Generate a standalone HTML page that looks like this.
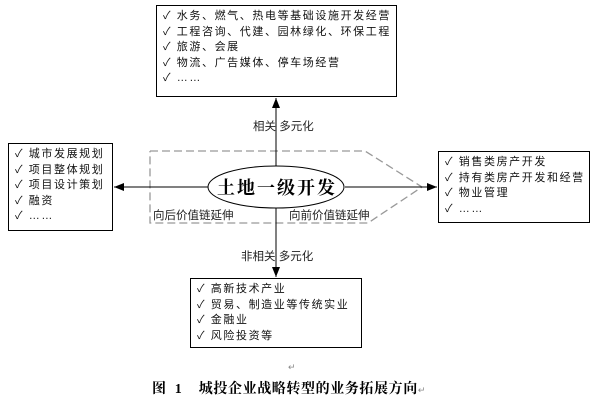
<!DOCTYPE html>
<html><head><meta charset="utf-8"><style>
body{margin:0;background:#fff;width:600px;height:412px;overflow:hidden;font-family:"Liberation Sans","Noto Sans CJK SC",sans-serif;}
.box{position:absolute;border:1px solid #000;background:#fff;font-size:11px;line-height:15.5px;letter-spacing:1.6px;color:#111;padding:3px 0 0 6px;box-sizing:border-box;white-space:nowrap;overflow:hidden;}
.lbl{position:absolute;font-size:11.5px;color:#222;white-space:nowrap;}
</style></head><body>
<svg width="600" height="412" style="position:absolute;left:0;top:0">
<defs><marker id="a" markerWidth="10" markerHeight="8" refX="10" refY="4" orient="auto" markerUnits="userSpaceOnUse"><path d="M0,0L10,4L0,8z" fill="#000"/></marker></defs>
<polyline points="150,151 365,151 422,187 368,223 150,223 150,151" fill="none" stroke="#999" stroke-width="1.3" stroke-dasharray="8,4"/>
<line x1="276" y1="166" x2="276" y2="98" stroke="#000" marker-end="url(#a)"/>
<line x1="276" y1="208" x2="276" y2="277" stroke="#000" marker-end="url(#a)"/>
<line x1="208" y1="187" x2="114" y2="187" stroke="#000" marker-end="url(#a)"/>
<line x1="345" y1="187" x2="437" y2="187" stroke="#000" marker-end="url(#a)"/>
<ellipse cx="276" cy="187" rx="68" ry="21" fill="#fff" stroke="#000"/>
<text x="277" y="194" text-anchor="middle" font-family="Liberation Serif,Noto Serif CJK SC,serif" font-weight="bold" font-size="18" letter-spacing="2">土地一级开发</text>
</svg>
<div class="box" style="left:156px;top:5px;width:241px;height:92px;">✓ 水务、燃气、热电等基础设施开发经营<br>✓ 工程咨询、代建、园林绿化、环保工程<br>✓ 旅游、会展<br>✓ 物流、广告媒体、停车场经营<br>✓ ……</div>
<div class="box" style="left:8px;top:143px;width:105px;height:88px;">✓ 城市发展规划<br>✓ 项目整体规划<br>✓ 项目设计策划<br>✓ 融资<br>✓ ……</div>
<div class="box" style="left:438px;top:151px;width:152px;height:72px;">✓ 销售类房产开发<br>✓ 持有类房产开发和经营<br>✓ 物业管理<br>✓ ……</div>
<div class="box" style="left:190px;top:278px;width:172px;height:70px;">✓ 高新技术产业<br>✓ 贸易、制造业等传统实业<br>✓ 金融业<br>✓ 风险投资等</div>
<div class="lbl" style="left:253px;top:118px;">相关 多元化</div>
<div class="lbl" style="left:241px;top:248px;">非相关 多元化</div>
<div class="lbl" style="left:153px;top:207px;">向后价值链延伸</div>
<div class="lbl" style="left:289px;top:207px;">向前价值链延伸</div>
<div class="lbl" style="left:288px;top:362px;font-size:9px;color:#888;">↵</div>
<div style="position:absolute;left:152px;top:378px;font-family:'Liberation Serif','Noto Serif CJK SC',serif;font-weight:bold;font-size:14px;letter-spacing:0.6px;white-space:nowrap;">图&nbsp;&nbsp;1&nbsp;&nbsp;&nbsp;&nbsp;城投企业战略转型的业务拓展方向<span style="font-size:9px;color:#888;font-weight:normal">↵</span></div>
</body></html>
